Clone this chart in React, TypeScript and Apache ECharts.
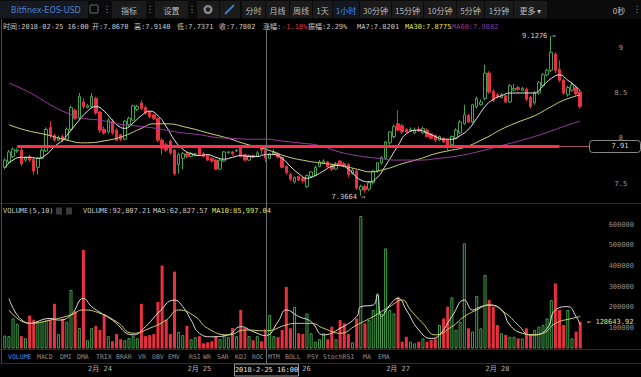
import React, { useEffect, useRef } from 'react';
import * as echarts from 'echarts';

// ---------- data ----------
const pairName = 'Bitfinex-EOS-USD';
const startHourUTC = Date.UTC(2018, 1, 23, 1); // first candle: 2018-02-23 01:00

const opens = [
  7.68, 7.74, 7.80, 7.86, 7.87, 7.76, 7.80, 7.77, 7.68, 7.78,
  7.86, 8.12, 8.03, 7.98, 8.02, 7.99, 8.10, 8.31, 8.22, 8.40,
  8.34, 8.35, 8.44, 8.29, 8.10, 8.07, 8.19, 8.09, 8.04, 7.99,
  8.15, 8.20, 8.32, 8.39, 8.34, 8.29, 8.26, 8.22, 7.98, 7.93,
  7.97, 7.87, 7.71, 7.78, 7.83, 7.80, 7.82, 7.90, 7.83, 7.81,
  7.78, 7.76, 7.66, 7.75, 7.84, 7.85, 7.86, 7.90, 7.82, 7.76,
  7.81, 7.80, 7.89, 7.867, 7.78, 7.83, 7.83, 7.79, 7.69, 7.60,
  7.52, 7.58, 7.56, 7.47, 7.58, 7.59, 7.69, 7.73, 7.74, 7.70,
  7.66, 7.75, 7.72, 7.71, 7.61, 7.64, 7.43, 7.47, 7.44, 7.51,
  7.64, 7.73, 7.78, 7.95, 8.02, 8.16, 8.14, 8.10, 8.08, 8.06,
  8.10, 8.06, 8.09, 8.05, 8.03, 7.98, 8.00, 7.98, 7.93, 8.00,
  8.06, 8.16, 8.25, 8.18, 8.35, 8.37, 8.44, 8.72, 8.52, 8.48,
  8.45, 8.47, 8.40, 8.53, 8.56, 8.53, 8.54, 8.45, 8.39, 8.50,
  8.58, 8.70, 8.75, 8.93, 8.76, 8.64, 8.48, 8.53, 8.56, 8.51,
];
const closes = [
  7.76, 7.85, 7.88, 7.87, 7.72, 7.79, 7.76, 7.64, 7.78, 7.87,
  8.10, 8.03, 7.98, 8.01, 7.98, 8.10, 8.34, 8.22, 8.46, 8.35,
  8.36, 8.46, 8.28, 8.09, 8.06, 8.20, 8.06, 7.98, 7.99, 8.19,
  8.22, 8.36, 8.35, 8.33, 8.28, 8.24, 8.22, 7.98, 7.89, 7.87,
  7.84, 7.61, 7.82, 7.83, 7.80, 7.83, 7.83, 7.82, 7.80, 7.76,
  7.75, 7.66, 7.76, 7.85, 7.85, 7.83, 7.87, 7.80, 7.76, 7.81,
  7.79, 7.84, 7.87, 7.7802, 7.83, 7.85, 7.79, 7.68, 7.62, 7.55,
  7.57, 7.54, 7.53, 7.59, 7.63, 7.68, 7.74, 7.75, 7.69, 7.66,
  7.72, 7.71, 7.70, 7.60, 7.65, 7.45, 7.47, 7.43, 7.51, 7.64,
  7.73, 7.79, 7.96, 8.07, 8.13, 8.09, 8.07, 8.07, 8.10, 8.09,
  8.08, 8.11, 8.02, 8.00, 7.98, 8.02, 7.96, 7.91, 8.02, 8.09,
  8.18, 8.26, 8.18, 8.37, 8.44, 8.40, 8.72, 8.51, 8.42, 8.46,
  8.48, 8.40, 8.58, 8.55, 8.54, 8.55, 8.43, 8.35, 8.50, 8.62,
  8.70, 8.75, 8.95, 8.75, 8.64, 8.50, 8.56, 8.59, 8.49, 8.35,
];
const lows = [
  7.66, 7.72, 7.78, 7.84, 7.69, 7.74, 7.74, 7.60, 7.60, 7.77,
  7.85, 8.00, 7.96, 7.97, 7.96, 7.98, 8.08, 8.20, 8.20, 8.33,
  8.33, 8.33, 8.26, 8.06, 8.04, 8.05, 8.04, 7.97, 7.97, 7.98,
  8.13, 8.19, 8.30, 8.31, 8.26, 8.22, 8.20, 7.96, 7.82, 7.85,
  7.82, 7.59, 7.61, 7.66, 7.78, 7.79, 7.80, 7.81, 7.79, 7.75,
  7.73, 7.65, 7.65, 7.74, 7.83, 7.81, 7.85, 7.79, 7.75, 7.75,
  7.78, 7.79, 7.82, 7.7371, 7.77, 7.82, 7.78, 7.67, 7.60, 7.53,
  7.50, 7.53, 7.51, 7.45, 7.57, 7.58, 7.68, 7.72, 7.68, 7.64,
  7.65, 7.69, 7.68, 7.57, 7.60, 7.43, 7.3664, 7.40, 7.42, 7.49,
  7.62, 7.71, 7.77, 7.93, 8.00, 8.08, 8.05, 8.06, 8.07, 8.05,
  8.07, 8.05, 8.01, 7.99, 7.96, 7.97, 7.95, 7.87, 7.92, 7.99,
  8.05, 8.15, 8.17, 8.17, 8.33, 8.36, 8.42, 8.49, 8.40, 8.44,
  8.44, 8.39, 8.39, 8.52, 8.52, 8.52, 8.41, 8.33, 8.37, 8.48,
  8.56, 8.68, 8.73, 8.72, 8.62, 8.48, 8.46, 8.51, 8.47, 8.33,
];
const highs = [
  7.78, 7.87, 7.90, 7.89, 7.90, 7.80, 7.82, 7.78, 7.79, 7.89,
  8.12, 8.19, 8.05, 8.03, 8.04, 8.12, 8.36, 8.33, 8.50, 8.44,
  8.38, 8.50, 8.46, 8.30, 8.13, 8.22, 8.21, 8.11, 8.05, 8.20,
  8.24, 8.37, 8.37, 8.42, 8.36, 8.30, 8.27, 8.23, 8.00, 7.95,
  7.99, 7.88, 7.84, 7.85, 7.85, 7.85, 7.84, 7.92, 7.85, 7.82,
  7.79, 7.77, 7.77, 7.86, 7.86, 7.86, 7.88, 7.92, 7.83, 7.82,
  7.82, 7.86, 7.90, 7.914, 7.84, 7.88, 7.85, 7.80, 7.70, 7.62,
  7.58, 7.59, 7.58, 7.60, 7.64, 7.70, 7.76, 7.77, 7.75, 7.72,
  7.74, 7.76, 7.74, 7.73, 7.67, 7.65, 7.49, 7.49, 7.53, 7.65,
  7.74, 7.80, 7.97, 8.08, 8.15, 8.31, 8.16, 8.11, 8.12, 8.12,
  8.13, 8.13, 8.11, 8.06, 8.04, 8.03, 8.01, 7.99, 8.03, 8.11,
  8.20, 8.37, 8.27, 8.38, 8.46, 8.43, 8.81, 8.74, 8.54, 8.50,
  8.50, 8.48, 8.60, 8.60, 8.58, 8.57, 8.56, 8.47, 8.52, 8.63,
  8.72, 8.77, 9.1276, 8.95, 8.86, 8.66, 8.58, 8.62, 8.58, 8.53,
];
const volumes = [
  63000, 60000, 146000, 120000, 60000, 50000, 160000, 140000, 130000, 130000,
  135000, 140000, 217000, 70000, 145000, 130000, 284000, 180000, 100000, 478000,
  40000, 100000, 110000, 90000, 165000, 60000, 35000, 70000, 45000, 40000,
  50000, 60000, 50000, 217000, 60000, 65000, 70000, 226000, 402000, 140000,
  70000, 373000, 80000, 65000, 110000, 45000, 55000, 60000, 25000, 30000,
  35000, 60000, 45000, 65000, 55000, 100000, 60000, 187000, 100000, 60000,
  40000, 60000, 35000, 92807.21, 163000, 60000, 55000, 90000, 299000, 98000,
  203000, 74000, 70000, 170000, 74000, 33000, 45000, 74000, 45000, 106000,
  45000, 138000, 122000, 70000, 30000, 146000, 643000, 122000, 138000, 187000,
  267000, 170000, 486000, 187000, 170000, 251000, 33000, 57000, 33000, 25000,
  33000, 49000, 33000, 41000, 49000, 114000, 146000, 203000, 248000, 90000,
  130000, 510000, 98000, 82000, 255000, 98000, 357000, 236000, 203000, 114000,
  74000, 66000, 57000, 57000, 49000, 49000, 98000, 66000, 90000, 106000,
  114000, 146000, 235000, 316000, 187000, 114000, 187000, 49000, 82000, 128643.92,
];

// moving-average lines, read as [candle index, value]
const ma7 = [
  [0, 7.68], [2, 7.76], [4, 7.79], [6, 7.79], [8, 7.78], [10, 7.82], [12, 7.91], [14, 7.98],
  [16, 8.09], [18, 8.20], [20, 8.30], [22, 8.35], [24, 8.30], [26, 8.20], [28, 8.12], [29, 8.11],
  [31, 8.17], [33, 8.25], [35, 8.30], [37, 8.25], [39, 8.13], [41, 7.98], [43, 7.88], [45, 7.83],
  [47, 7.81], [49, 7.82], [51, 7.79], [53, 7.77], [55, 7.79], [57, 7.81], [59, 7.80], [61, 7.80],
  [63, 7.82], [65, 7.82], [67, 7.78], [69, 7.69], [71, 7.61], [73, 7.56], [75, 7.59], [77, 7.64],
  [79, 7.69], [81, 7.70], [83, 7.66], [86, 7.54], [88, 7.52], [90, 7.57], [92, 7.70], [95, 7.92],
  [97, 8.05], [100, 8.09], [102, 8.06], [104, 8.02], [106, 7.99], [108, 7.99], [110, 8.03],
  [112, 8.10], [114, 8.22], [116, 8.35], [118, 8.43], [120, 8.47], [122, 8.50], [124, 8.50],
  [126, 8.50], [128, 8.50], [130, 8.58], [132, 8.66], [134, 8.70], [136, 8.64], [138, 8.57], [139, 8.52],
];
const ma30 = [
  [1, 8.15], [5, 8.09], [10, 8.04], [15, 7.98], [19, 7.95], [25, 7.98], [29, 8.03], [33, 8.11],
  [36, 8.16], [39, 8.16], [44, 8.12], [49, 8.06], [54, 8.00], [58, 7.94], [63, 7.88], [68, 7.80],
  [73, 7.75], [76, 7.73], [81, 7.70], [86, 7.65], [88, 7.63], [92, 7.66], [96, 7.72], [100, 7.77],
  [104, 7.83], [108, 7.87], [111, 7.90], [116, 8.00], [120, 8.10], [124, 8.18], [128, 8.25],
  [132, 8.35], [135, 8.42], [139, 8.48],
];
const ma60 = [
  [1, 8.61], [4, 8.55], [7, 8.48], [11, 8.37], [15, 8.28], [19, 8.22], [23, 8.20], [27, 8.16],
  [31, 8.14], [35, 8.12], [39, 8.09], [43, 8.06], [47, 8.04], [51, 8.01], [55, 8.00], [59, 7.99],
  [63, 7.99], [67, 7.97], [71, 7.95], [76, 7.92], [80, 7.86], [85, 7.81], [90, 7.78], [95, 7.76],
  [100, 7.76], [105, 7.78], [110, 7.81], [115, 7.86], [120, 7.92], [125, 7.98], [130, 8.05],
  [135, 8.13], [139, 8.19],
];
const volMa5 = [
  [1, 243000], [6, 122000], [11, 146000], [13, 138000], [16, 163000], [19, 243000], [21, 203000],
  [24, 163000], [26, 138000], [31, 66000], [34, 106000], [37, 171000], [41, 235000], [43, 203000],
  [45, 138000], [47, 74000], [50, 57000], [54, 66000], [57, 106000], [60, 82000], [63, 62827.57],
  [66, 130000], [68, 187000], [71, 155000], [74, 130000], [77, 66000], [81, 98000], [85, 155000],
  [86, 203000], [89, 211000], [90, 260000], [91, 155000], [93, 211000], [95, 243000], [97, 187000],
  [100, 90000], [103, 49000], [105, 66000], [108, 155000], [111, 235000], [113, 187000], [115, 203000],
  [117, 211000], [120, 187000], [122, 114000], [125, 74000], [128, 66000], [131, 98000], [133, 187000],
  [136, 203000], [138, 155000], [139, 114000],
];
const volMa10 = [
  [1, 187000], [6, 122000], [11, 138000], [16, 163000], [19, 187000], [23, 171000], [27, 130000],
  [31, 74000], [35, 98000], [39, 138000], [42, 187000], [46, 155000], [49, 98000], [54, 66000],
  [58, 90000], [63, 85997.04], [68, 114000], [70, 122000], [74, 122000], [77, 98000], [81, 74000],
  [85, 114000], [89, 155000], [93, 203000], [96, 235000], [98, 187000], [101, 122000], [104, 66000],
  [108, 106000], [111, 155000], [114, 187000], [117, 211000], [121, 171000], [124, 114000],
  [127, 66000], [130, 74000], [133, 122000], [137, 146000], [139, 155000],
];

const priceTicks = [7.5, 8, 8.5, 9];
const volumeTicks = [100000, 200000, 300000, 400000, 500000, 600000];
const alertPrice = 7.91;
const alertFrom = 3;
const alertTo = 134;
const crossIndex = 63;
const infoTexts = {
  time: '时间:2018-02-25 16:00', open: '开:7.8670', high: '高:7.9140', low: '低:7.7371',
  close: '收:7.7802', chgLabel: '涨幅:', chg: '-1.18%', amp: '振幅:2.29%',
  ma7: 'MA7:7.8201', ma30: 'MA30:7.8775', ma60: 'MA60:7.9882',
};
const volTexts = { title: 'VOLUME(5,10)', vol: 'VOLUME:92,807.21', ma5: 'MA5:62,827.57', ma10: 'MA10:85,997.04' };
const toolButtons = [
  ['指标', 112, 146], ['设置', 155, 188], ['', 197, 219], ['', 220, 240],
  ['分时', 242, 265], ['月线', 266, 289], ['周线', 290, 312], ['1天', 313, 332], ['1小时', 333, 359],
  ['30分钟', 360, 391], ['15分钟', 392, 423], ['10分钟', 424, 456], ['5分钟', 457, 484],
  ['1分钟', 485, 513], ['更多 ▾', 514, 547],
];
const tabs = [
  ['VOLUME', 8], ['MACD', 37], ['DMI', 60], ['DMA', 77], ['TRIX', 96], ['BRAR', 116], ['VR', 138],
  ['OBV', 152], ['EMV', 168], ['RSI', 189], ['WR', 203], ['SAR', 217], ['KDJ', 235], ['ROC', 252],
  ['MTM', 268], ['BOLL', 285], ['PSY', 307], ['StochRSI', 323], ['MA', 363], ['EMA', 378],
];

const categories = opens.map((_, i) => {
  const d = new Date(startHourUTC + i * 3600000);
  return `${d.getUTCFullYear()}-${d.getUTCMonth() + 1}-${d.getUTCDate()} ${String(d.getUTCHours()).padStart(2, '0')}:00`;
});

const RED = '#e8303f';
const GREEN = '#42a34b';
const MONO = '"DejaVu Sans Mono", "Noto Sans CJK SC", monospace';
const CJK = '"Noto Sans CJK SC", sans-serif';

export default function App() {
  const ref = useRef<HTMLDivElement>(null);
  useEffect(() => {
    document.body.style.margin = '0';
    document.body.style.background = '#000';
    const chart = echarts.init(ref.current!, null, { renderer: 'svg' });
    const hiIdx = highs.indexOf(Math.max(...highs));
    const loIdx = lows.indexOf(Math.min(...lows));
    const gridL = 2.7, gridR = 58.7;
    const option: any = {
      animation: false,
      backgroundColor: '#000',
      grid: [
        { left: gridL, right: gridR, top: 29.5, height: 172.3 },
        { left: gridL, right: gridR, top: 208.4, height: 140.1 },
      ],
      xAxis: [
        {
          type: 'category', data: categories, gridIndex: 0,
          axisLine: { show: false }, axisTick: { show: false }, axisLabel: { show: false }, splitLine: { show: false },
        },
        {
          type: 'category', data: categories, gridIndex: 1,
          axisLine: { show: false }, axisTick: { show: false }, splitLine: { show: false },
          axisLabel: {
            interval: (_i: number, v: string) => v.endsWith(' 00:00'),
            formatter: (v: string) => { const p = v.split(' ')[0].split('-'); return `${p[1]}月 ${p[2]}`; },
            color: '#b4b4b4', fontSize: 7, fontFamily: MONO, margin: 17,
          },
        },
      ],
      yAxis: [
        {
          type: 'value', gridIndex: 0, position: 'right', min: 7.3, max: 9.2, scale: true,
          splitLine: { show: false }, axisLine: { show: false }, axisTick: { show: false },
          axisLabel: { customValues: priceTicks, formatter: (v: number) => String(v), color: '#a0a0a0', fontSize: 7, fontFamily: MONO, align: 'center', margin: 38.5 },
        },
        {
          type: 'value', gridIndex: 1, position: 'right', min: 0, max: 680000,
          splitLine: { show: false }, axisLine: { show: false }, axisTick: { show: false },
          axisLabel: { customValues: volumeTicks, formatter: (v: number) => String(v), color: '#8c8c8c', fontSize: 7, fontFamily: MONO, align: 'center', margin: 39 },
        },
      ],
      series: [
        {
          type: 'candlestick', xAxisIndex: 0, yAxisIndex: 0, barWidth: 3,
          data: opens.map((o, i) => [o, closes[i], lows[i], highs[i]]),
          itemStyle: { color: '#000', color0: RED, borderColor: GREEN, borderColor0: RED, borderWidth: 1 },
          markPoint: {
            silent: true, symbol: 'circle', symbolSize: 1, itemStyle: { color: 'rgba(0,0,0,0)' },
            label: { show: true, position: 'left', distance: 0, color: '#d0d0d0', fontSize: 7, fontFamily: MONO },
            data: [
              { coord: [hiIdx, highs[hiIdx]], value: highs[hiIdx], label: { formatter: `${highs[hiIdx].toFixed(4)} →`, offset: [5, 0] } },
              { coord: [loIdx, lows[loIdx]], value: lows[loIdx], label: { formatter: `${lows[loIdx].toFixed(4)} →`, offset: [5, 1] } },
            ],
          },
        },
        { type: 'line', xAxisIndex: 0, yAxisIndex: 0, data: ma7, smooth: true, symbol: 'none', lineStyle: { width: 1, color: '#e8e8e8' }, z: 3 },
        { type: 'line', xAxisIndex: 0, yAxisIndex: 0, data: ma30, smooth: true, symbol: 'none', lineStyle: { width: 1, color: '#d2d27a' }, z: 3 },
        { type: 'line', xAxisIndex: 0, yAxisIndex: 0, data: ma60, smooth: true, symbol: 'none', lineStyle: { width: 1, color: '#9a3ca2' }, z: 3 },
        {
          type: 'bar', xAxisIndex: 1, yAxisIndex: 1, barWidth: 3,
          data: volumes.map((v, i) => ({
            value: v,
            itemStyle: closes[i] >= opens[i] ? { color: '#000', borderColor: GREEN, borderWidth: 1 } : { color: RED },
          })),
        },
        { type: 'line', xAxisIndex: 1, yAxisIndex: 1, data: volMa5, smooth: true, symbol: 'none', lineStyle: { width: 1, color: '#dedede' }, z: 3 },
        { type: 'line', xAxisIndex: 1, yAxisIndex: 1, data: volMa10, smooth: true, symbol: 'none', lineStyle: { width: 1, color: '#cfcf6a' }, z: 3 },
      ],
    };
    chart.setOption(option);

    const cx = Math.round(chart.convertToPixel({ xAxisIndex: 1 }, categories[crossIndex]) as number) + 0.5;
    const py = chart.convertToPixel({ yAxisIndex: 0 }, alertPrice) as number;
    const xStart = chart.convertToPixel({ xAxisIndex: 0 }, categories[alertFrom]) as number;
    const xEnd = chart.convertToPixel({ xAxisIndex: 0 }, categories[alertTo]) as number;
    const lastVol = volumes[volumes.length - 1];
    const vy = chart.convertToPixel({ yAxisIndex: 1 }, lastVol) as number;

    const txt = (text: string, x: number, y: number, fill: string, font = `7px ${MONO}`, align = 'left') => ({
      type: 'text', x, y, z: 20, style: { text, fill, font, textAlign: align, textVerticalAlign: 'middle' },
    });
    const hline = (x1: number, x2: number, y: number, stroke: string, w = 1) => ({
      type: 'line', z: 15, shape: { x1, y1: y, x2, y2: y }, style: { stroke, lineWidth: w },
    });

    const g: any[] = [];
    // toolbar
    g.push({ type: 'rect', z: 10, shape: { x: 0, y: 0, width: 641, height: 19 }, style: { fill: '#0b0b0b' } });
    g.push({ type: 'rect', z: 11, shape: { x: 0, y: 1, width: 88, height: 17 }, style: { fill: '#151a22' } });
    g.push(txt(pairName, 11, 10, '#4d80cc', `8px ${'"DejaVu Sans", sans-serif'}`));
    g.push({ type: 'rect', z: 12, shape: { x: 90, y: 5, width: 8, height: 8, r: 1 }, style: { fill: 'none', stroke: '#6a6a6a', lineWidth: 1 } });
    [107, 150, 192, 637].forEach((x) => g.push(txt('⋮', x, 9, '#7a7a7a', `9px "DejaVu Sans"`, 'center')));
    toolButtons.forEach(([label, x0, x1]) => {
      const sel = label === '1小时';
      g.push({ type: 'rect', z: 11, shape: { x: x0 as number, y: 1, width: (x1 as number) - (x0 as number), height: 17 }, style: { fill: sel ? '#121822' : '#1b1b1b' } });
      if (label) g.push(txt(label as string, ((x0 as number) + (x1 as number)) / 2, 10, sel ? '#4a8ee6' : '#b8b8b8', `8px ${CJK}`, 'center'));
    });
    g.push({ type: 'ring', z: 12, shape: { cx: 208, cy: 9.5, r: 4.5, r0: 2.2 }, style: { fill: '#8a8a8a' } });
    g.push({ type: 'line', z: 12, shape: { x1: 225, y1: 14, x2: 234, y2: 5 }, style: { stroke: '#3b7bd0', lineWidth: 2 } });
    g.push(txt('0秒', 619, 10, '#c0c0c0', `8px ${CJK}`, 'center'));

    // info line
    const iy = 27;
    g.push(txt(infoTexts.time, 3, iy, '#c8c8c8'));
    g.push(txt(infoTexts.open, 92, iy, '#c8c8c8'));
    g.push(txt(infoTexts.high, 134, iy, '#c8c8c8'));
    g.push(txt(infoTexts.low, 177, iy, '#c8c8c8'));
    g.push(txt(infoTexts.close, 219, iy, '#c8c8c8'));
    g.push(txt(infoTexts.chgLabel, 263, iy, '#c8c8c8'));
    g.push(txt(infoTexts.chg, 282, iy, '#e8334a'));
    g.push(txt(infoTexts.amp, 308, iy, '#c8c8c8'));
    g.push(txt(infoTexts.ma7, 357, iy, '#c8c8c8'));
    g.push(txt(infoTexts.ma30, 405, iy, '#e4e45c'));
    g.push(txt(infoTexts.ma60, 452, iy, '#8c3a92'));

    // panel lines
    g.push(hline(0, 641, 203.5, '#2c2c2c'));
    g.push(hline(0, 641, 349.5, '#2c2c2c'));
    g.push(hline(0, 641, 363.5, '#2c2c2c'));
    g.push({ type: 'line', z: 15, shape: { x1: 1.5, y1: 19, x2: 1.5, y2: 363 }, style: { stroke: '#4a4a4a', lineWidth: 1 } });
    // crosshair
    g.push({ type: 'line', z: 15, shape: { x1: cx, y1: 30, x2: cx, y2: 363 }, style: { stroke: '#6e6e6e', lineWidth: 1 } });

    // volume header
    const vyh = 211;
    g.push(txt(volTexts.title, 3, vyh, '#c8c8c8'));
    g.push({ type: 'rect', z: 16, shape: { x: 56, y: 207.5, width: 6, height: 7 }, style: { fill: '#3a3a3a' } });
    g.push({ type: 'rect', z: 16, shape: { x: 66, y: 207.5, width: 6, height: 7 }, style: { fill: '#3a3a3a' } });
    g.push(txt(volTexts.vol, 83, vyh, '#c8c8c8'));
    g.push(txt(volTexts.ma5, 153, vyh, '#c8c8c8'));
    g.push(txt(volTexts.ma10, 212, vyh, '#e0e064'));

    // tabs
    tabs.forEach(([t, x]) => g.push(txt(t as string, x as number, 357, t === 'VOLUME' ? '#4f8fd8' : '#8e8e8e', `6.5px ${MONO}`)));

    // alert price line (thick) + thin extension + price box
    g.push({
      type: 'line', z: 14, shape: { x1: xStart, y1: py, x2: xEnd, y2: py },
      style: { stroke: '#ff2e4f', lineWidth: 3, opacity: 1 },
    });
    g.push(hline(xEnd, 589, py, '#a05468'));
    g.push({ type: 'rect', z: 16, shape: { x: 589.5, y: py - 6, width: 51, height: 12, r: 3 }, style: { fill: '#000', stroke: '#8a8a8a', lineWidth: 1 } });
    g.push(txt(alertPrice.toFixed(2), 620, py, '#dcdcdc', `7px ${MONO}`, 'center'));

    // last volume label
    g.push(txt(`← ${lastVol.toFixed(2)}`, 587, vy, '#e2e26a'));

    // crosshair date box
    g.push({ type: 'rect', z: 30, shape: { x: cx - 32, y: 364, width: 64, height: 12 }, style: { fill: '#000', stroke: '#9a9a9a', lineWidth: 1 } });
    g.push({ ...txt(categories[crossIndex], cx, 370, '#e0e0e0', `7px ${MONO}`, 'center'), z: 31 });

    chart.setOption({ graphic: g });
    return () => chart.dispose();
  }, []);
  return <div ref={ref} style={{ width: 641, height: 377, background: '#000' }} />;
}
